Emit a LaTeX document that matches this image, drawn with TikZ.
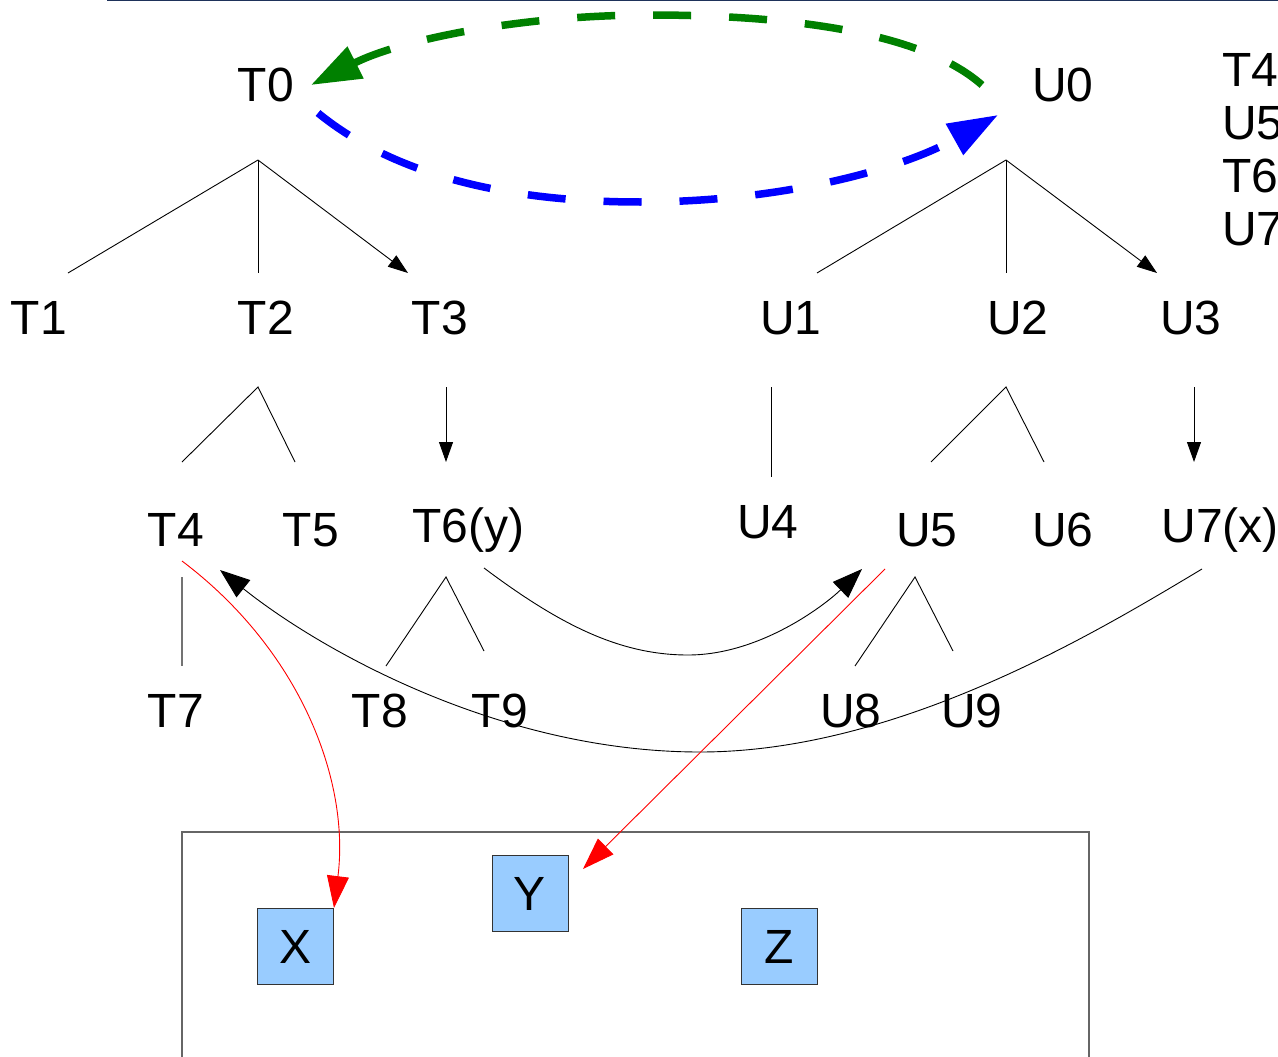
\documentclass[tikz,border=0pt]{standalone}
\usepackage{fontspec}
\setmainfont{Liberation Sans}
\usetikzlibrary{arrows.meta}
\definecolor{navy}{RGB}{30,50,90}
\definecolor{boxblue}{HTML}{99CCFF}
\definecolor{dgreen}{RGB}{0,128,0}
\tikzset{
  lbl/.style={inner sep=0pt, font=\fontsize{48}{56}\selectfont},
  thin line/.style={draw=black, line width=0.9pt},
  small arrow/.style={thin line, -{Triangle[length=20pt,width=14pt]}},
  big arrow/.style={thin line, -{Triangle[length=30pt,width=22pt]}},
  red arrow/.style={draw=red, line width=0.9pt, -{Triangle[length=32pt,width=22pt]}},
  dashline/.style={line width=7.5pt, dash pattern=on 38pt off 38pt},
  bluebox/.style={draw=black!80, line width=1pt, fill=boxblue, minimum width=76pt, minimum height=76pt, inner sep=0pt, font=\fontsize{48}{56}\selectfont},
}
\begin{document}
\begin{tikzpicture}[x=1pt,y=-1pt]
\useasboundingbox (0,0) rectangle (1278,1057);
\begin{scope}
\clip (0,0) rectangle (1278,1057);
% top rule
\coordinate (ruleA) at (107,0);
\coordinate (ruleB) at (1278,0);
\draw[navy, line width=2.5pt] (ruleA) -- (ruleB);

% labels
\node[lbl] (T0) at (266,85) {T0};
\node[lbl] (U0) at (1063,85) {U0};
\node[lbl] (T1) at (39,318) {T1};
\node[lbl] (T2) at (266,318) {T2};
\node[lbl] (T3) at (440,318) {T3};
\node[lbl] (U1) at (791,318) {U1};
\node[lbl] (U2) at (1018,318) {U2};
\node[lbl] (U3) at (1191,318) {U3};
\node[lbl] (T4) at (176,530) {T4};
\node[lbl] (T5) at (311,530) {T5};
\node[lbl] (T6) at (468,530) {T6(y)};
\node[lbl] (U4) at (768,522) {U4};
\node[lbl] (U5) at (927,530) {U5};
\node[lbl] (U6) at (1063,530) {U6};
\node[lbl] (U7) at (1220,530) {U7(x)};
\node[lbl] (T7) at (176,711) {T7};
\node[lbl] (T8) at (380,711) {T8};
\node[lbl] (T9) at (500,711) {T9};
\node[lbl] (U8) at (851,711) {U8};
\node[lbl] (U9) at (972,711) {U9};

\node[lbl, anchor=west] (R1) at (1222,70) {T4};
\node[lbl, anchor=west] (R2) at (1222,123) {U5};
\node[lbl, anchor=west] (R3) at (1222,176) {T6};
\node[lbl, anchor=west] (R4) at (1222,229) {U7};

% tree coordinates
\coordinate (aT0) at (258,160);
\coordinate (eT1) at (68,273);
\coordinate (eT2) at (258,273);
\coordinate (eT3) at (408,273);
\coordinate (aU0) at (1006,160);
\coordinate (eU1) at (817,273);
\coordinate (eU2) at (1006,273);
\coordinate (eU3) at (1157,273);
\coordinate (aT2) at (258,387);
\coordinate (eT4) at (182,462);
\coordinate (eT5) at (295,462);
\coordinate (aT3) at (446,387);
\coordinate (eT6) at (446,462);
\coordinate (aU1) at (771,387);
\coordinate (eU4) at (771,477);
\coordinate (aU2) at (1006,387);
\coordinate (eU5) at (931,462);
\coordinate (eU6) at (1044,462);
\coordinate (aU3) at (1194,387);
\coordinate (eU7) at (1194,462);
\coordinate (aT4) at (182,577);
\coordinate (eT7) at (182,666);
\coordinate (aT6) at (446,577);
\coordinate (eT8) at (386,666);
\coordinate (eT9) at (484,651);
\coordinate (aU5) at (915,577);
\coordinate (eU8) at (855,666);
\coordinate (eU9) at (953,651);

\draw[thin line] (aT0) -- (eT1);
\draw[thin line] (aT0) -- (eT2);
\draw[small arrow] (aT0) -- (eT3);
\draw[thin line] (aU0) -- (eU1);
\draw[thin line] (aU0) -- (eU2);
\draw[small arrow] (aU0) -- (eU3);
\draw[thin line] (eT4) -- (aT2) -- (eT5);
\draw[small arrow] (aT3) -- (eT6);
\draw[thin line] (aU1) -- (eU4);
\draw[thin line] (eU5) -- (aU2) -- (eU6);
\draw[small arrow] (aU3) -- (eU7);
\draw[draw=black!55, line width=1.5pt] (aT4) -- (eT7);
\draw[thin line] (eT8) -- (aT6) -- (eT9);
\draw[thin line] (eU8) -- (aU5) -- (eU9);

% container and boxes
\coordinate (cA) at (182,832);
\coordinate (cB) at (1089,1070);
\draw[black!60, line width=1.5pt] (cA) rectangle (cB);
\node[bluebox] (X) at (295.5,946.5) {X};
\node[bluebox] (Y) at (530,893.5) {Y};
\node[bluebox] (Z) at (779,946.5) {Z};

% curved arrows
\coordinate (sT6) at (484,568);
\coordinate (tU5) at (862,569);
\draw[big arrow] (sT6) .. controls (560,625) and (620,655) .. (688,655)
   .. controls (760,655) and (825,605) .. (tU5);
\coordinate (sU7) at (1202,569);
\coordinate (tT4) at (220,570);
\draw[big arrow] (sU7) .. controls (1100,630) and (900,752) .. (700,752)
   .. controls (500,752) and (320,650) .. (tT4);

% red arrows
\coordinate (rT4) at (182,561);
\draw[red arrow] (rT4) .. controls (300,650) and (350,780) .. (X.north east);
\coordinate (rU5) at (885,569);
\coordinate (rY) at (583,869);
\draw[red arrow] (rU5) -- (rY);

% dashed loop
\coordinate (gS) at (982,85);
\coordinate (gT) at (311,85);
\draw[dgreen, dashline, -{Triangle[length=50pt,width=34pt]}]
  (gS) .. controls (920,30) and (780,15) .. (650,15)
  .. controls (520,15) and (400,40) .. (gT);
\coordinate (bS) at (318,113);
\coordinate (bT) at (998,115);
\draw[blue, dashline, -{Triangle[length=50pt,width=34pt]}]
  (bS) .. controls (400,180) and (520,202) .. (640,202)
  .. controls (780,202) and (900,170) .. (bT);
\end{scope}
\end{tikzpicture}
\end{document}
